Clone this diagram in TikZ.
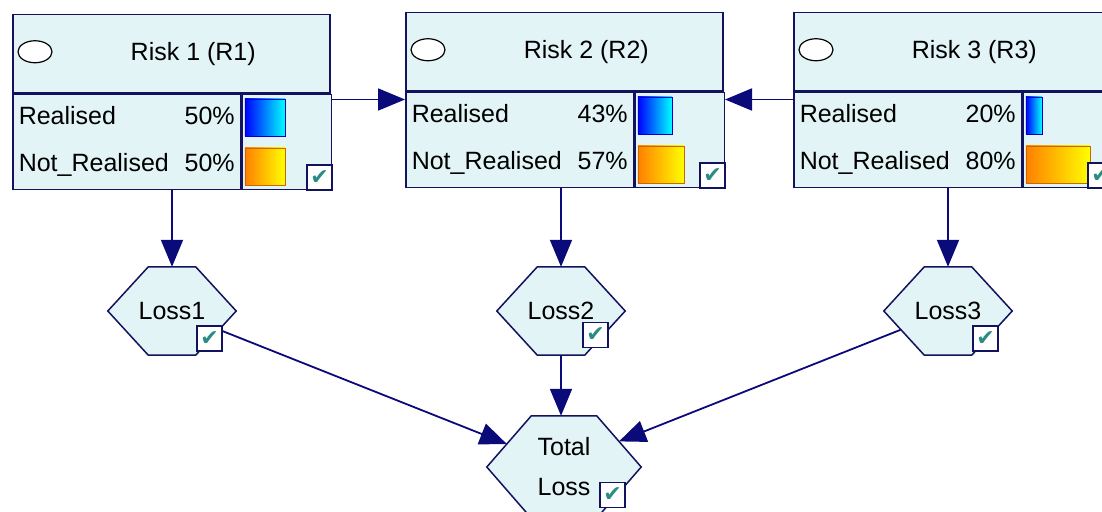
\documentclass[tikz,border=0pt]{standalone}
\usepackage{fontspec}
\setmainfont{Liberation Sans}
\newfontfamily\tickfont{DejaVu Sans}
\usetikzlibrary{arrows.meta,calc,positioning,shapes.geometric}
\definecolor{nodefill}{HTML}{E3F4F6}
\definecolor{navy}{HTML}{12125E}
\definecolor{arrowblue}{HTML}{0A0A78}
\definecolor{tickgreen}{HTML}{2A8C84}
\pgfdeclarelayer{edges}
\pgfdeclarelayer{shapes}
\pgfsetlayers{edges,shapes,main}

% hexagon round a named node: #1 node, #2 chamfer
\newcommand{\hexshape}[2]{%
  \begin{pgfonlayer}{shapes}
    \draw[box] (#1.west) -- ($(#1.north west)+(#2,0)$) -- ($(#1.north east)+(-#2,0)$)
      -- (#1.east) -- ($(#1.south east)+(-#2,0)$) -- ($(#1.south west)+(#2,0)$) -- cycle;
  \end{pgfonlayer}}

\begin{document}
\begin{tikzpicture}[x=1pt,y=-1pt,
		every node/.style={inner sep=0pt,font=\fontsize{25}{30}\selectfont},
		box/.style={draw=navy,line width=1.5pt,fill=nodefill},
		head/.style={box,anchor=north west,minimum width=317pt,minimum height=78pt},
		states/.style={box,anchor=north west,minimum width=228pt,minimum height=95pt,
			text width=216pt,align=left,font=\fontsize{25}{47}\selectfont},
		bars/.style={box,anchor=north west,minimum width=89pt,minimum height=95pt},
		oval/.style={ellipse,draw=black,fill=white,line width=1.2pt,minimum width=34pt,minimum height=22pt},
		realbar/.style={anchor=north west,draw=blue!80!black,line width=0.8pt,left color=blue,right color=cyan,minimum height=37pt},
		notbar/.style={anchor=north west,draw=orange!80!black,line width=0.8pt,left color=orange,right color=yellow,minimum height=37pt},
		tickbox/.style={draw=navy,fill=white,line width=1.2pt,minimum size=25pt,text=tickgreen,font=\tickfont\fontsize{22}{22}\selectfont},
		loss/.style={minimum width=128pt,minimum height=88pt},
		link/.style={draw=arrowblue,line width=1.8pt,-{Triangle[length=27pt,width=22pt]}}
		]
		\clip (0,0) rectangle (1102,511);

		% Risk 1
		\node[head] (r1h) at (12,14) {};
		\node[oval] (r1o) at ($(r1h.west)+(23,-2)$) {};
		\node (r1t) at ($(r1h.center)+(22,0)$) {Risk 1 (R1)};
		\node[states] (r1s) at (r1h.south west) {Realised\hfill 50\%\\Not\_Realised\hfill 50\%};
		\node[bars] (r1b) at (r1s.north east) {};
		\node[realbar,minimum width=40pt] (r1p) at ($(r1b.north west)+(3,5)$) {};
		\node[notbar,minimum width=40pt] (r1q) at ($(r1b.north west)+(3,54)$) {};
		\node[tickbox] (r1c) at ($(r1b.south east)+(-12.5,-12.5)$) {✔};

		% Risk 2
		\node[head] (r2h) at (405,12) {};
		\node[oval] (r2o) at ($(r2h.west)+(23,-2)$) {};
		\node (r2t) at ($(r2h.center)+(22,0)$) {Risk 2 (R2)};
		\node[states] (r2s) at (r2h.south west) {Realised\hfill 43\%\\Not\_Realised\hfill 57\%};
		\node[bars] (r2b) at (r2s.north east) {};
		\node[realbar,minimum width=34pt] (r2p) at ($(r2b.north west)+(3,5)$) {};
		\node[notbar,minimum width=46pt] (r2q) at ($(r2b.north west)+(3,54)$) {};
		\node[tickbox] (r2c) at ($(r2b.south east)+(-12.5,-12.5)$) {✔};

		% Risk 3
		\node[head] (r3h) at (793,12) {};
		\node[oval] (r3o) at ($(r3h.west)+(23,-2)$) {};
		\node (r3t) at ($(r3h.center)+(22,0)$) {Risk 3 (R3)};
		\node[states] (r3s) at (r3h.south west) {Realised\hfill 20\%\\Not\_Realised\hfill 80\%};
		\node[bars] (r3b) at (r3s.north east) {};
		\node[realbar,minimum width=16pt] (r3p) at ($(r3b.north west)+(3,5)$) {};
		\node[notbar,minimum width=64pt] (r3q) at ($(r3b.north west)+(3,54)$) {};
		\node[tickbox] (r3c) at ($(r3b.south east)+(-12.5,-12.5)$) {✔};

		% losses
		\node[loss] (l1) at (172,311) {Loss1};
		\hexshape{l1}{40.5}
		\node[tickbox] (l1c) at ($(l1.center)+(37.5,27.5)$) {✔};

		\node[loss] (l2) at (561,311) {Loss2};
		\hexshape{l2}{40.5}
		\node[tickbox] (l2c) at ($(l2.center)+(34.5,24)$) {✔};

		\node[loss] (l3) at (948,311) {Loss3};
		\hexshape{l3}{40.5}
		\node[tickbox] (l3c) at ($(l3.center)+(37.5,27.5)$) {✔};

		\node[loss,minimum width=154pt,minimum height=102pt,align=center,font=\fontsize{25}{40}\selectfont] (t) at (564,467) {Total\\Loss};
		\hexshape{t}{44.5}
		\node[tickbox] (tc) at ($(t.center)+(48.5,28)$) {✔};

		\coordinate (tnw) at ($(t.north west)+(44.5,0)$);
		\coordinate (tne) at ($(t.north east)+(-44.5,0)$);
		\coordinate (tin1) at ($(t.west)!0.45!(tnw)$);
		\coordinate (tin3) at ($(t.east)!0.5!(tne)$);

		% links
		\begin{pgfonlayer}{edges}
			\draw[link] ($(r1b.north east)+(0,6)$) -- ($(r2s.north west)+(0,8)$);
			\draw[link] ($(r3s.north west)+(0,8)$) -- ($(r2b.north east)+(0,8)$);
			\draw[link] (r1s.south -| l1.north) -- (l1.north);
			\draw[link] (r2s.south -| l2.north) -- (l2.north);
			\draw[link] (r3s.south -| l3.north) -- (l3.north);
			\draw[link] (l1.center) -- (tin1);
			\draw[link] (l2.south) -- (l2.south |- t.north);
			\draw[link] (l3.center) -- (tin3);
		\end{pgfonlayer}
	\end{tikzpicture}
\end{document}
